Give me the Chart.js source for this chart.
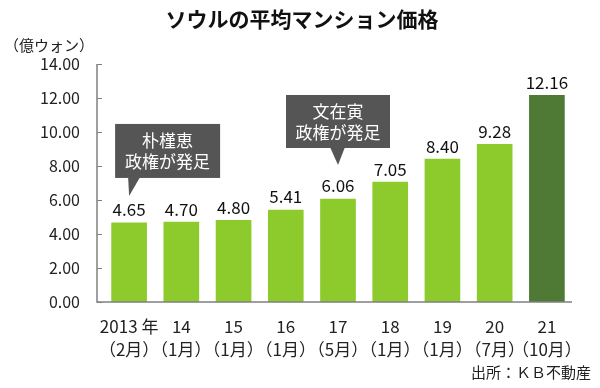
<!DOCTYPE html>
<html>
<head>
<meta charset="utf-8">
<script src="https://cdn.jsdelivr.net/npm/chart.js@4"></script>
<style>
  html, body { margin: 0; padding: 0; background: #fff; }
  #wrap { width: 600px; height: 388px; position: relative; }
</style>
</head>
<body>
<div id="wrap"><canvas id="priceChart"></canvas></div>
<script>
// data
const years = ['2013 年', '14', '15', '16', '17', '18', '19', '20', '21'];
const months = ['（2月）', '（1月）', '（1月）', '（1月）', '（5月）', '（1月）', '（1月）', '（7月）', '（10月）'];
const prices = [4.65, 4.70, 4.80, 5.41, 6.06, 7.05, 8.40, 9.28, 12.16];
const yTicks = [0, 2, 4, 6, 8, 10, 12, 14];
const callouts = [
    { index: 0, lines: ['朴槿恵', '政権が発足'] },
    { index: 4, lines: ['文在寅', '政権が発足'] }
];

const FONT = '"Noto Sans CJK JP", "Noto Sans", sans-serif';
const LIGHT = '#8ccb2b';
const DARK = '#4f7a35';

// callout box geometry (relative to the pointer tip)
const calloutStyle = [
    { lift: 27, boxLeft: -14, boxW: 105, boxH: 54, gap: 18, baseL: -1, baseR: 11 },
    { lift: 34, boxLeft: -52, boxW: 104, boxH: 53, gap: 17, baseL: -8, baseR: 7 }
];

const decor = {
    id: 'decor',
    afterDraw(chart) {
        const c = chart.ctx;
        const xs = chart.scales.x;
        const ys = chart.scales.y;
        const area = chart.chartArea;
        c.save();

        // title
        c.fillStyle = '#111';
        c.font = 'bold 21px ' + FONT;
        c.textAlign = 'center';
        c.textBaseline = 'middle';
        c.fillText('ソウルの平均マンション価格', 302, 19);

        // unit
        c.font = '15px ' + FONT;
        c.textAlign = 'left';
        c.fillStyle = '#222';
        c.fillText('（億ウォン）', 4, 45);

        // source
        c.textAlign = 'right';
        c.fillText('出所：ＫＢ不動産', 591, 372);

        // axes
        const axX = 97;
        c.strokeStyle = '#808080';
        c.lineWidth = 1.5;
        c.beginPath();
        c.moveTo(axX, ys.getPixelForValue(14));
        c.lineTo(axX, area.bottom);
        c.lineTo(572, area.bottom);
        c.stroke();
        c.lineWidth = 1;
        yTicks.forEach(v => {
            const py = Math.round(ys.getPixelForValue(v)) + 0.5;
            c.beginPath();
            c.moveTo(axX, py);
            c.lineTo(axX + 5, py);
            c.stroke();
        });

        // value labels
        c.font = '17px ' + FONT;
        c.textAlign = 'center';
        c.fillStyle = '#111';
        prices.forEach((v, i) => {
            c.fillText(v.toFixed(2), xs.getPixelForValue(i), ys.getPixelForValue(v) - 13);
        });

        // callouts
        callouts.forEach((co, k) => {
            const s = calloutStyle[k];
            const tx = xs.getPixelForValue(co.index);
            const ty = ys.getPixelForValue(prices[co.index]) - s.lift;
            const bottom = ty - s.gap;
            const left = tx + s.boxLeft;
            const top = bottom - s.boxH;
            c.fillStyle = '#555555';
            c.fillRect(left, top, s.boxW, s.boxH);
            c.beginPath();
            c.moveTo(tx + s.baseL, bottom - 1);
            c.lineTo(tx + s.baseR, bottom - 1);
            c.lineTo(tx, ty);
            c.closePath();
            c.fill();
            c.fillStyle = '#fff';
            c.font = '17px ' + FONT;
            c.fillText(co.lines[0], left + s.boxW / 2, top + 17);
            c.fillText(co.lines[1], left + s.boxW / 2, top + 38);
        });
        c.restore();
    }
};

const ctx = document.getElementById('priceChart').getContext('2d');
const priceChart = new Chart(ctx, {
    type: 'bar',
    data: {
        labels: years.map((y, i) => [y, months[i]]),
        datasets: [{
            data: prices,
            backgroundColor: prices.map((v, i) => i === prices.length - 1 ? DARK : LIGHT),
            barThickness: 35
        }]
    },
    options: {
        responsive: true,
        maintainAspectRatio: false,
        animation: false,
        layout: { padding: { top: 64, right: 27, left: 0, bottom: 0 } },
        plugins: {
            legend: { display: false },
            tooltip: { enabled: false }
        },
        scales: {
            x: {
                grid: { display: false },
                border: { display: false },
                afterFit: s => { s.height = 86; },
                ticks: {
                    color: '#222',
                    padding: 5,
                    autoSkip: false,
                    maxRotation: 0,
                    minRotation: 0,
                    font: { family: FONT, size: 17, lineHeight: 1.36 }
                }
            },
            y: {
                min: 0,
                max: 14,
                grid: { display: false },
                border: { display: false },
                afterFit: s => { s.width = 103; },
                afterBuildTicks: s => { s.ticks = yTicks.map(v => ({ value: v })); },
                ticks: {
                    color: '#222',
                    padding: 15,
                    font: { family: FONT, size: 16 },
                    callback: v => v.toFixed(2)
                }
            }
        }
    },
    plugins: [decor]
});
</script>
</body>
</html>
